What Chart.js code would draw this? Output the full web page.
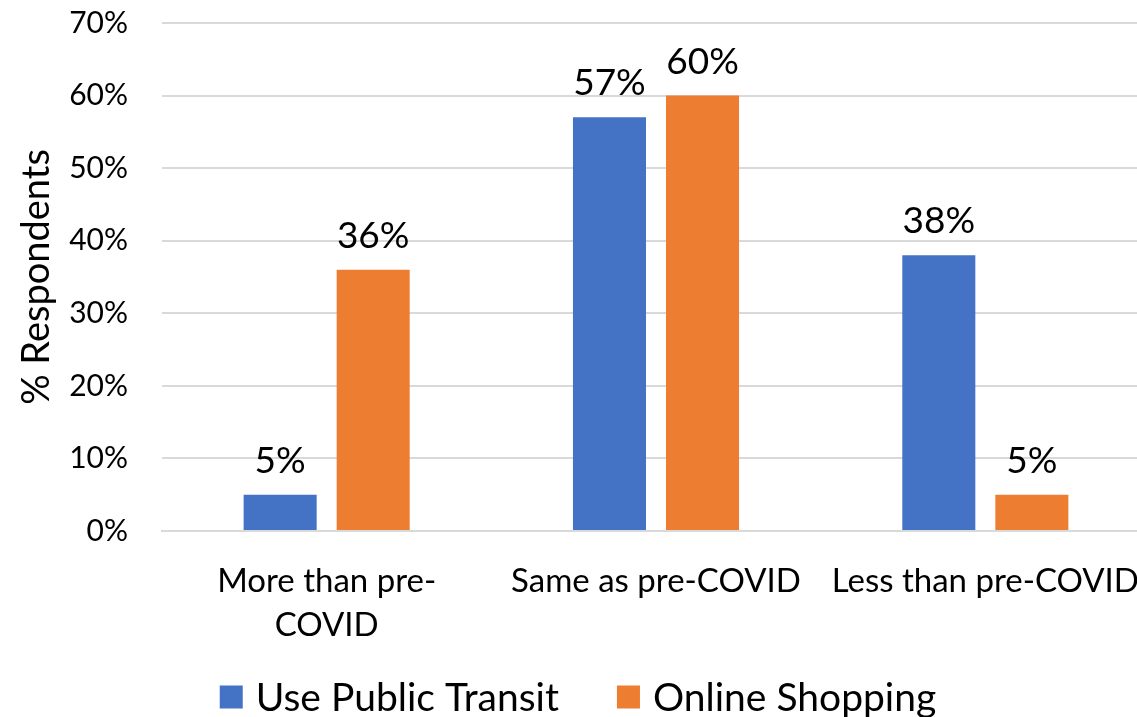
<!DOCTYPE html>
<html>
<head>
<meta charset="utf-8">
<script src="https://cdn.jsdelivr.net/npm/chart.js"></script>
<style>
  html, body { margin: 0; padding: 0; background: #fff; overflow: hidden; }
  #wrap { width: 1150px; height: 717px; }
</style>
</head>
<body>
<div id="wrap"><canvas id="myChart" width="1150" height="717"></canvas></div>
<script>
const categories = [["More than pre-", "COVID"], "Same as pre-COVID", "Less than pre-COVID"];
const transitValues = [5, 57, 38];
const shoppingValues = [36, 60, 5];
const seriesNames = ["Use Public Transit", "Online Shopping"];
const barColors = ["#4472C4", "#ED7D31"];

const FONT = "Lato, 'Open Sans', sans-serif";

// draws the value above each bar
const valueLabels = {
  id: "valueLabels",
  afterDatasetsDraw(chart) {
    const ctx = chart.ctx;
    ctx.save();
    ctx.font = "37px " + FONT;
    ctx.fillStyle = "#000";
    ctx.textAlign = "center";
    ctx.textBaseline = "alphabetic";
    chart.data.datasets.forEach((ds, i) => {
      chart.getDatasetMeta(i).data.forEach((bar, j) => {
        ctx.fillText(ds.data[j] + "%", bar.x, bar.y - 22);
      });
    });
    ctx.restore();
  }
};

// legend at the bottom, drawn by hand so the spacing can be set
const bottomLegend = {
  id: "bottomLegend",
  afterDraw(chart) {
    const ctx = chart.ctx;
    const box = 23, gap = 13, space = 58;
    ctx.save();
    ctx.font = "39px " + FONT;
    ctx.textBaseline = "middle";
    const items = chart.data.datasets.map(ds => ({ text: ds.label, color: ds.backgroundColor, w: ctx.measureText(ds.label).width }));
    let total = items.reduce((a, it) => a + box + gap + it.w, 0) + space * (items.length - 1);
    let x = chart.width / 2 - total / 2 + 3;
    const y = chart.height - 20;
    items.forEach(it => {
      ctx.fillStyle = it.color;
      ctx.fillRect(x, y - box / 2, box, box);
      ctx.fillStyle = "#000";
      ctx.fillText(it.text, x + box + gap, y + 1);
      x += box + gap + it.w + space;
    });
    ctx.restore();
  }
};

new Chart("myChart", {
  type: "bar",
  data: {
    labels: categories,
    datasets: [{
      label: seriesNames[0],
      backgroundColor: barColors[0],
      data: transitValues
    }, {
      label: seriesNames[1],
      backgroundColor: barColors[1],
      data: shoppingValues
    }]
  },
  options: {
    responsive: false,
    animation: false,
    layout: { padding: { top: 23, right: 0, left: 0, bottom: 47 } },
    categoryPercentage: 0.565,
    barPercentage: 0.785,
    scales: {
      x: {
        grid: { display: false },
        border: { color: "#d9d9d9", width: 2 },
        ticks: { color: "#000", font: { family: FONT, size: 33, lineHeight: 1.35 }, maxRotation: 0, padding: 20 },
        afterFit(s) { s.height = 139; s.paddingLeft = 0; s.paddingRight = 0; }
      },
      y: {
        min: 0,
        max: 70,
        ticks: {
          stepSize: 10,
          color: "#000",
          padding: 34,
          font: { family: FONT, size: 30 },
          callback: v => v + "%"
        },
        grid: { color: "#d9d9d9", lineWidth: 2, drawTicks: false },
        border: { display: false },
        title: { display: true, text: "% Respondents", color: "#000", font: { family: FONT, size: 38 }, padding: { top: 14, bottom: 0 } },
        afterFit(s) { s.width = 162; s.paddingTop = 0; s.paddingBottom = 0; }
      }
    },
    plugins: {
      legend: { display: false },
      tooltip: { enabled: false }
    }
  },
  plugins: [valueLabels, bottomLegend]
});
</script>
</body>
</html>
